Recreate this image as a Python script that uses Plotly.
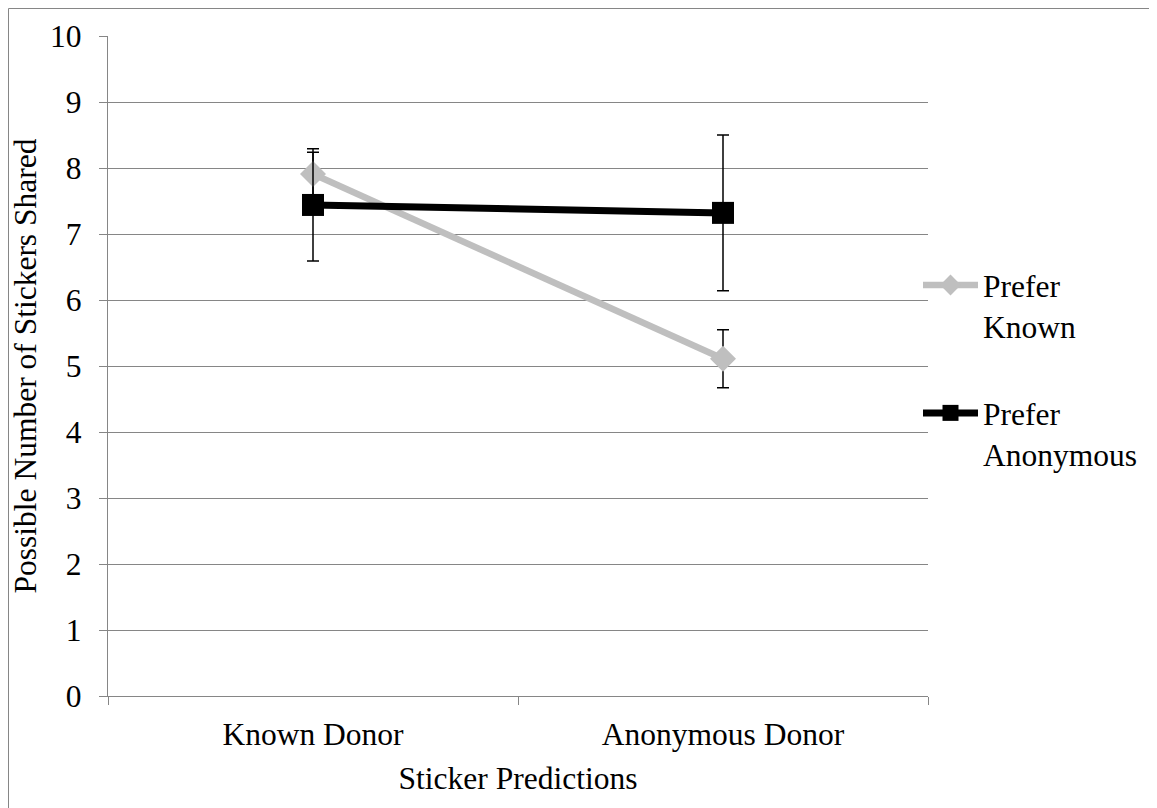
import plotly.graph_objects as go

# ---- data ----
categories = ["Known Donor", "Anonymous Donor"]
prefer_known = [7.91, 5.11]
prefer_known_err = [0.33, 0.44]
prefer_anonymous = [7.44, 7.32]
prefer_anonymous_err = [0.85, 1.18]
y_ticks = list(range(0, 11))

# ---- layout constants (page has an 8px body margin) ----
OFF = 8
W, H = 1157 - OFF, 808 - OFF
L, T = 108 - OFF, 36 - OFF
PW, PH = 820, 660
R, B = W - L - PW, H - T - PH
FONT = "Liberation Serif"
GRID = "#868686"
FS = 31.5

fig = go.Figure()
fig.add_trace(go.Scatter(
    x=categories, y=prefer_known, name="Prefer<br>Known",
    mode="lines+markers", legendgroup="a",
    line=dict(color="#BFBFBF", width=6.5),
    marker=dict(symbol="diamond", size=20, color="#BFBFBF"),
    error_y=dict(type="data", array=prefer_known_err, color="black",
                 thickness=1.5, width=6),
))
fig.add_trace(go.Scatter(
    x=categories, y=prefer_anonymous, name="Prefer<br>Anonymous",
    mode="lines+markers", legendgroup="b",
    line=dict(color="black", width=7),
    marker=dict(symbol="square", size=22, color="black"),
    error_y=dict(type="data", array=prefer_anonymous_err, color="black",
                 thickness=1.5, width=6),
))

def px_x(p):
    return (p - OFF - L) / PW
def px_y(p):
    return (H - B - (p - OFF)) / PH

fig.add_shape(type="rect", xref="paper", yref="paper",
              x0=px_x(OFF + 0.5), x1=px_x(1170), y0=px_y(830), y1=px_y(OFF + 0.5),
              line=dict(color=GRID, width=1), fillcolor="rgba(0,0,0,0)",
              layer="below")

fig.update_layout(
    width=W, height=H,
    margin=dict(l=L, r=R, t=T, b=B, autoexpand=False),
    paper_bgcolor="white", plot_bgcolor="white",
    font=dict(family=FONT, size=FS, color="black"),
    legend=dict(x=px_x(918), y=px_y(258), xanchor="left", yanchor="top",
                valign="top", tracegroupgap=43, itemwidth=55,
                font=dict(family=FONT, size=FS, color="black"),
                bgcolor="rgba(0,0,0,0)"),
    xaxis=dict(
        type="category", range=[-0.5, 1.5], tickson="boundaries",
        ticks="outside", ticklen=8, tickcolor=GRID, tickwidth=1,
        showline=True, linecolor=GRID, linewidth=1, showgrid=False,
        ticklabelstandoff=10,
        title=dict(text="Sticker Predictions", standoff=16,
                   font=dict(family=FONT, size=FS)),
        tickfont=dict(family=FONT, size=FS),
    ),
    yaxis=dict(
        range=[0, 10], tickvals=y_ticks, ticks="outside", ticklen=8,
        tickcolor=GRID, tickwidth=1, showline=True, linecolor=GRID,
        linewidth=1.2, showgrid=True, gridcolor=GRID, gridwidth=1.2,
        zeroline=False, ticklabelstandoff=11,
        title=dict(text="Possible Number of Stickers Shared", standoff=10,
                   font=dict(family=FONT, size=FS)),
        tickfont=dict(family=FONT, size=FS),
    ),
)

fig.write_html("out.html")
